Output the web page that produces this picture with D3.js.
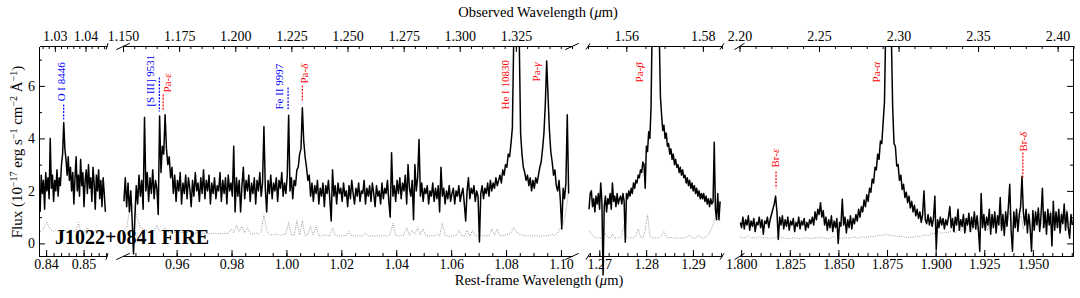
<!DOCTYPE html>
<html>
<head>
<meta charset="utf-8">
<script src="https://cdn.jsdelivr.net/npm/d3@7/dist/d3.min.js"></script>
<style>
  body { margin: 0; background: #fff; }
  svg { display: block; }
</style>
</head>
<body>
<svg id="chart" width="1080" height="298"></svg>
<script>
// observed / rest-frame wavelength ratio (1+z)
var zf = 1.2228;
var objectName = "J1022+0841 FIRE";

// x limits of each panel in observed wavelength (um)
var obsLimits = [[1.025, 1.047], [1.150, 1.350], [1.550, 1.585], [2.200, 2.410]];
var fluxLimits = [-0.5, 7.5];

// tick labels
var restTicks = [
  [0.84, 0.85],
  [0.96, 0.98, 1.00, 1.02, 1.04, 1.06, 1.08, 1.10],
  [1.27, 1.28, 1.29],
  [1.800, 1.825, 1.850, 1.875, 1.900, 1.925, 1.950]
];
var obsTicks = [
  [1.03, 1.04],
  [1.150, 1.175, 1.200, 1.225, 1.250, 1.275, 1.300, 1.325],
  [1.56, 1.58],
  [2.20, 2.25, 2.30, 2.35, 2.40]
];
var restMinor = [0.002, 0.005, 0.002, 0.005];
var obsMinor = [0.002, 0.005, 0.005, 0.01];
var fluxTicks = [0, 2, 4, 6];
var fluxMinor = [1, 3, 5, 7];

// spectrum sampling (rest-frame um): first wavelength and step of each panel
var fluxStart = [0.8384, 0.9408, 1.2678, 1.7995];
var fluxStep = [0.0003, 0.0005, 0.00025, 0.0007];
var errStep = [0.0006, 0.001, 0.0005, 0.0014];

// flux, 1e-17 erg/s/cm2/A
var flux1 = [1.2, 2.6, 1.9, 2.4, 1.3, 2.7, 2.0, 2.5, 1.7, 4.0,
  2.1, 2.6, 1.6, 2.4, 2.0, 2.8, 1.8, 2.5, 2.2, 3.0,
  3.4, 4.6, 3.6, 3.2, 2.6, 3.3, 2.4, 2.9, 2.0, 2.7,
  1.5, 2.5, 3.3, 2.0, 2.6, 1.8, 3.2, 2.2, 2.7, 1.4,
  2.4, 2.8, 1.9, 3.0, 2.1, 2.5, 1.6, 2.9, 2.3, 1.3,
  2.6, 2.0, 2.8, 1.7, 2.4, 1.4, 2.5, 1.9, 1.2];
var flux2 = [1.6, 2.5, 1.4, 2.3, 1.2, 2.0, 0.9, -0.4, 1.0, 2.2,
  1.5, 2.6, 1.8, 2.4, 1.3, 4.8, 2.0, 2.7, 1.6, 2.5,
  1.9, 2.8, 1.7, 2.4, 2.1, 1.1, 4.85, 2.7, 3.7, 3.4,
  4.9, 3.6, 3.0, 3.3, 2.5, 2.9, 1.9, 2.6, 1.6, 2.4,
  2.0, 2.7, 1.5, 2.3, 1.9, 2.6, 1.7, 2.5, 2.1, 1.4,
  2.4, 1.8, 2.7, 2.0, 2.3, 1.6, 2.5, 1.9, 2.8, 1.7,
  2.4, 2.0, 2.6, 1.5, 2.3, 1.9, 2.5, 1.7, 2.2, 2.0,
  2.7, 1.6, 2.4, 1.9, 2.5, 1.5, 2.6, 2.0, 2.3, 1.8,
  3.7, 1.2, 2.5, 1.8, 2.4, 1.2, 2.2, 2.9, 1.7, 2.4,
  2.0, 2.6, 1.6, 2.3, 1.9, 2.5, 1.5, 2.4, 2.0, 2.7,
  1.8, 2.3, 4.45, 2.1, 1.2, 2.4, 1.9, 2.6, 1.7, 2.3,
  2.0, 2.5, 1.6, 2.4, 2.1, 2.7, 1.8, 2.3, 1.9, 2.6,
  4.88, 2.0, 2.5, 1.7, 2.4, 2.2, 2.8, 2.9, 3.4, 3.6,
  5.17, 3.9, 3.3, 2.9, 2.4, 2.6, 1.8, 2.3, 1.6, 2.2,
  1.9, 2.4, 1.5, 2.1, 1.8, 2.3, 1.4, 2.2, 1.9, 2.4,
  1.7, 0.85, 2.8, 1.8, 2.2, 1.5, 2.3, 1.9, 2.1, 1.6,
  2.3, 1.8, 2.0, 1.4, 2.2, 1.7, 2.4, 1.9, 1.5, 2.1,
  1.8, 2.3, 1.6, 2.0, 1.9, 2.4, 1.5, 2.1, 1.8, 2.2,
  1.6, 2.3, 1.9, 1.4, 2.2, 1.8, 2.0, 1.5, 2.3, 1.7,
  2.1, 1.9, 2.4, 1.6, 1.0, 3.45, 1.8, 2.2, 1.6, 2.4,
  1.9, 2.5, 1.7, 2.3, 2.0, 2.6, 1.5, 3.0, 2.1, 1.8,
  2.4, 0.9, 3.0, 2.0, 2.5, 3.96, 1.8, 2.3, 1.6, 2.1,
  1.9, 2.2, 1.5, 2.0, 1.8, 2.3, 1.6, 2.1, 1.7, 2.2,
  1.2, 2.9, 1.8, 2.1, 1.5, 2.0, 1.7, 2.2, 1.6, 1.9,
  2.1, 1.5, 2.0, 1.8, 2.2, 1.6, 1.9, 2.1, 1.5, 0.85,
  2.0, 2.5, 1.7, 2.1, 1.9, 2.2, 1.6, 2.0, 1.8, 0.05,
  1.9, 2.2, 1.7, 2.1, 1.9, 2.3, 1.8, 2.4, 2.0, 2.3,
  2.1, 2.5, 2.2, 2.4, 2.6, 2.3, 2.8, 2.6, 3.0, 2.9,
  3.4, 3.3, 3.8, 4.4, 7.8, 10.0, 12.0, 10.5, 7.8, 4.2,
  3.4, 2.9, 2.7, 2.4, 2.6, 2.2, 2.5, 2.0, 2.4, 2.1,
  2.5, 2.3, 2.6, 2.9, 3.1, 3.6, 4.2, 5.3, 6.95, 5.6,
  4.3, 3.5, 3.1, 2.6, 2.8, 2.2, 2.0, 2.4, 1.6, 0.55,
  2.1, 1.7, 2.3, 4.9, 1.9];
var flux3 = [1.3, 1.9, 2.0, 1.4, 1.7, 1.2, 1.8, 1.5, 1.9, 1.3,
  2.3, 1.6, -1.2, 1.4, 1.8, 1.2, 1.7, 1.5, 1.9, 1.3,
  2.3, 1.6, 1.8, 1.4, 1.9, 1.5, 1.7, 1.8, 1.5, 1.9,
  1.6, 0.04, 1.9, 1.7, 2.0, 1.8, 2.1, 1.9, 2.3, 2.1,
  2.4, 2.3, 2.6, 2.5, 2.8, 2.7, 3.1, 3.0, 2.1, 3.7,
  3.5, 4.25, 4.0, 5.2, 8.5, 12, 14, 15, 14, 12,
  8.0, 5.6, 4.9, 4.3, 4.5, 4.0, 4.2, 3.7, 3.8, 3.4,
  3.6, 3.2, 3.4, 3.0, 3.2, 2.9, 3.0, 2.7, 2.9, 2.6,
  2.8, 2.5, 2.6, 2.3, 2.5, 2.2, 2.4, 2.1, 2.3, 2.0,
  2.2, 1.9, 2.1, 1.8, 2.0, 1.7, 1.9, 1.7, 1.9, 1.6,
  1.8, 1.5, 1.7, 1.4, 1.7, 1.5, 1.6, 3.85, 1.3, 0.9,
  1.9, 0.9, 1.6];
var flux4 = [0.8, 0.6, 1.0, 0.55, 0.9, 0.7, 1.05, 0.5, 0.85, 0.65,
  0.95, 0.45, 0.8, 0.7, 1.0, 0.6, 0.9, 0.35, 0.85, 0.75,
  1.0, 0.6, 0.9, 1.1, 1.3, 1.5, 1.8, 1.2, 0.15, 1.0,
  0.7, 1.05, 0.55, 0.9, 0.65, 1.0, 0.5, 0.85, 0.7, 0.95,
  0.45, 0.8, 0.65, 1.0, 0.55, 0.85, 0.7, 0.95, 0.5, 0.8,
  0.6, 0.9, 0.75, 1.0, 0.7, 1.2, 0.9, 1.3, 1.1, 1.55,
  1.0, 1.25, 0.7, 1.0, 0.5, 0.9, 0.6, 1.05, 0.45, 0.85,
  0.6, 0.95, 0.0, 0.8, 0.65, 1.68, 0.7, 1.0, 0.4, 0.9,
  0.6, 1.05, 0.55, 0.95, 0.75, 1.1, 0.85, 1.3, 1.0, 1.4,
  1.2, 1.65, 1.4, 1.85, 1.6, 2.1, 1.95, 2.45, 2.3, 2.9,
  2.8, 3.4, 3.2, 3.9, 3.8, 4.6, 5.4, 8.5, 14, 16,
  12, 8.0, 5.2, 3.8, 3.7, 2.95, 3.0, 2.4, 2.6, 2.05,
  2.25, 1.75, 1.95, 1.55, 1.8, 1.35, 1.6, 1.2, 1.45, 1.05,
  1.3, 0.95, 1.2, 0.8, 1.1, 2.0, 0.9, 0.75, 1.1, 0.7,
  1.0, 0.65, 0.95, 1.8, -0.23, 0.9, 0.6, 1.0, 0.7, 0.95,
  0.55, 0.9, 0.7, 1.0, 1.4, 0.6, 0.95, 0.45, 1.0, 0.7,
  1.3, 0.5, 0.9, 0.65, 1.1, 0.4, 0.95, 0.7, 1.15, 0.45,
  1.0, 0.6, 1.2, 0.55, 1.05, 0.5, -0.3, 1.9, 0.6, 1.1,
  0.5, 1.0, 0.7, 1.3, 0.35, 1.1, 0.6, 1.2, 0.4, 1.05,
  0.7, 1.75, 0.5, 1.1, 0.3, 1.2, 0.65, 1.4, 2.25, 0.5,
  -0.3, 1.2, 0.6, 1.3, 0.45, 1.1, 1.4, 2.56, 1.2, 0.7,
  1.3, 0.4, 1.1, 0.6, -0.3, 1.25, 0.5, 1.2, 0.7, 1.35,
  0.45, 1.1, 2.1, 0.6, 1.2, 0.35, 1.3, 0.7, 1.15, -0.1,
  1.6, 0.5, 1.2, 0.6, 1.3, 0.4, 1.1, 0.75, 1.5, 0.5,
  1.2, 0.6, 0.2, 1.1, 0.7];

// error spectrum, same units
var err1 = [0.45, 0.5, 0.65, 0.8, 0.6, 0.5, 0.45, 0.5, 0.45, 0.5,
  0.45, 0.48, 0.45, 0.5, 0.45, 0.48, 0.45, 0.8, 0.45, 0.5,
  0.45, 0.6, 0.45, 0.48, 0.45, 0.5, 0.45, 0.48, 0.5, 0.45];
var err2 = [0.5, 0.6, 1.2, 1.5, 1.3, 0.9, 0.6, 0.55, 0.5, 0.45,
  0.5, 0.45, 0.7, 0.45, 0.5, 0.6, 0.45, 0.4, 0.45, 0.4,
  0.45, 0.4, 0.42, 0.4, 0.45, 0.4, 0.38, 0.42, 0.4, 0.38,
  0.4, 0.38, 0.36, 0.4, 0.36, 0.38, 0.35, 0.4, 0.36, 0.55,
  0.4, 0.7, 0.45, 0.65, 0.4, 0.6, 0.38, 0.35, 0.4, 0.36,
  0.45, 1.1, 0.5, 0.34, 0.32, 0.36, 0.33, 0.3, 0.34, 0.35,
  0.8, 0.32, 0.3, 0.86, 0.32, 0.86, 0.3, 0.33, 0.65, 0.3,
  0.65, 0.3, 0.28, 0.32, 0.3, 0.28, 0.6, 0.3, 0.28, 0.3,
  0.28, 0.3, 0.45, 0.28, 0.3, 0.27, 0.3, 0.28, 0.4, 0.27,
  0.3, 0.28, 0.27, 0.3, 0.28, 0.3, 0.27, 0.35, 0.77, 0.3,
  0.28, 0.3, 0.32, 0.6, 0.3, 0.5, 0.35, 0.6, 0.32, 0.55,
  0.3, 0.28, 0.3, 0.27, 0.35, 0.28, 0.77, 0.3, 0.28, 0.27,
  0.3, 0.28, 0.5, 0.3, 0.27, 0.5, 0.28, 0.5, 0.3, 0.27,
  0.3, 0.28, 0.3, 0.27, 0.55, 0.3, 0.55, 0.28, 0.3, 0.32,
  0.35, 0.4, 0.6, 0.45, 0.35, 0.32, 0.3, 0.28, 0.3, 0.27,
  0.3, 0.28, 0.27, 0.3, 0.28, 0.3, 0.35, 0.3, 0.4, 0.6,
  0.7, 1.2, 2.0];
var err3 = [0.45, 0.4, 0.25, 0.2, 0.22, 0.2, 0.25, 0.4, 0.22, 0.2,
  0.35, 0.2, 0.22, 0.2, 0.3, 0.73, 0.25, 0.2, 0.22, 0.2,
  0.3, 0.55, 0.25, 0.2, 0.5, 1.1, 0.3, 0.2, 0.22, 0.2,
  0.22, 0.3, 0.45, 0.25, 0.2, 0.22, 0.2, 0.22, 0.2, 0.22,
  0.2, 0.22, 0.25, 0.32, 0.22, 0.2, 0.25, 0.3, 0.22, 0.2,
  0.25, 0.35, 0.5, 0.7, 1.0, 1.3, 0.8];
var err4 = [0.25, 0.2, 0.22, 0.3, 0.2, 0.22, 0.2, 0.25, 0.2, 0.22,
  0.2, 0.18, 0.22, 0.2, 0.3, 0.2, 0.22, 0.2, 0.18, 0.2,
  0.22, 0.2, 0.18, 0.2, 0.22, 0.2, 0.18, 0.2, 0.22, 0.2,
  0.22, 0.2, 0.18, 0.2, 0.25, 0.22, 0.2, 0.18, 0.2, 0.22,
  0.2, 0.22, 0.25, 0.2, 0.22, 0.25, 0.22, 0.25, 0.28, 0.25,
  0.28, 0.3, 0.3, 0.32, 0.35, 0.3, 0.3, 0.28, 0.25, 0.28,
  0.25, 0.22, 0.25, 0.22, 0.25, 0.28, 0.25, 0.3, 0.32, 0.3,
  0.35, 0.4, 0.35, 0.45, 0.38, 0.42, 0.4, 0.45, 0.5, 0.4,
  0.55, 0.45, 0.7, 0.5, 0.9, 0.45, 0.75, 0.5, 0.95, 0.6,
  0.8, 0.5, 1.0, 0.6, 0.85, 1.1, 0.55, 0.9, 0.7, 1.2,
  0.6, 1.0, 0.75, 1.1, 0.55, 0.95, 1.2, 0.65, 1.0, 0.8,
  1.15, 0.6, 1.0, 0.75, 1.25, 0.7, 1.05, 0.6, 1.2, 0.85,
  1.3, 0.7, 1.1];

// line identifications (rest-frame um, flux units)
var lineNames = ["O I 8446", "[S III] 9531", "Pa-ε", "Fe II 9997", "Pa-δ", "He I 10830", "Pa-γ", "Pa-β", "Pa-α", "Br-ε", "Br-δ"];
var lineMetal = [true, true, false, true, false, false, false, false, false, false, false];
var lineTextWave = [0.8451, 0.9516, 0.9581, 0.9986, 1.0079, 1.0811, 1.0924, 1.2793, 1.8712, 1.8197, 1.9471];
var lineTextFlux = [5.41, 5.21, 5.75, 5.10, 6.09, 5.10, 6.17, 6.13, 6.13, 2.89, 3.50];
var lineWave = [0.84468, 0.9537, 0.9551, 1.0006, 1.0058, null, null, null, null, 1.81793, 1.94485];
var lineTop = [5.29, 6.32, 5.67, 5.94, 6.01, null, null, null, null, 2.74, 3.46];
var lineBottom = [4.72, 5.02, 5.06, 5.10, 5.44, null, null, null, null, 2.09, 2.51];

var fluxes = [flux1, flux2, flux3, flux4];
var errs = [err1, err2, err3, err4];

// ---- layout ----
var W = 1080, H = 298;
var panelX = [[39.5, 107], [123, 572], [588, 722], [739.5, 1073.5]];
var yTop = 46.5, yBot = 256.5;
var serif = "'Liberation Serif', 'Times New Roman', Times, serif";

var svg = d3.select("#chart");
var y = d3.scaleLinear().domain(fluxLimits).range([yBot, yTop]);

var panels = obsLimits.map(function(lim, p) {
  return {
    rest: d3.scaleLinear().domain([lim[0] / zf, lim[1] / zf]).range(panelX[p]),
    obs: d3.scaleLinear().domain(lim).range(panelX[p])
  };
});

function minorTicks(dom, step) {
  var out = [];
  for (var k = Math.ceil(dom[0] / step - 1e-9); k * step <= dom[1] + 1e-9; k++) out.push(+(k * step).toFixed(6));
  return out;
}
function series(start, step, vals) {
  return vals.map(function(v, i) { return [start + i * step, v]; });
}
function styleAxis(g) {
  g.attr("font-family", serif).attr("font-size", 14);
  g.selectAll("line").attr("stroke", "#000");
  g.select(".domain").attr("stroke", "#000");
}
function noDomain(g) { g.select(".domain").remove(); }

// spectra
var defs = svg.append("defs");
panels.forEach(function(P, p) {
  defs.append("clipPath").attr("id", "clip" + p)
    .append("rect")
      .attr("x", panelX[p][0]).attr("y", yTop)
      .attr("width", panelX[p][1] - panelX[p][0]).attr("height", H - yTop);

  var line = d3.line()
    .x(function(d) { return P.rest(d[0]); })
    .y(function(d) { return y(d[1]); });

  var g = svg.append("g").attr("clip-path", "url(#clip" + p + ")");
  g.append("path")
    .datum(series(fluxStart[p], errStep[p], errs[p]))
    .attr("d", line)
    .attr("fill", "none")
    .attr("stroke", "#9a9a9a")
    .attr("stroke-width", 1)
    .attr("stroke-dasharray", "1,1.3");
  g.append("path")
    .datum(series(fluxStart[p], fluxStep[p], fluxes[p]))
    .attr("d", line)
    .attr("fill", "none")
    .attr("stroke", "#000")
    .attr("stroke-width", 1.5)
    .attr("stroke-linejoin", "round");
});

// axes
panels.forEach(function(P, p) {
  var fmtB = d3.format(p === 3 ? ".3f" : ".2f");
  var fmtT = d3.format(p === 1 ? ".3f" : ".2f");

  svg.append("g").attr("transform", "translate(0," + (yBot - 0.5) + ")")
    .call(d3.axisBottom(P.rest).tickValues(minorTicks(P.rest.domain(), restMinor[p]))
      .tickSizeInner(-3).tickSizeOuter(0).tickFormat(""))
    .call(noDomain).call(styleAxis);
  svg.append("g").attr("transform", "translate(0," + (yBot - 0.5) + ")")
    .call(d3.axisBottom(P.rest).tickValues(restTicks[p])
      .tickSizeInner(-6).tickSizeOuter(0).tickPadding(3.5).tickFormat(fmtB))
    .call(styleAxis);

  svg.append("g").attr("transform", "translate(0," + (yTop - 0.5) + ")")
    .call(d3.axisTop(P.obs).tickValues(minorTicks(P.obs.domain(), obsMinor[p]))
      .tickSizeInner(-3).tickSizeOuter(0).tickFormat(""))
    .call(noDomain).call(styleAxis);
  svg.append("g").attr("transform", "translate(0," + (yTop - 0.5) + ")")
    .call(d3.axisTop(P.obs).tickValues(obsTicks[p])
      .tickSizeInner(-6).tickSizeOuter(0).tickPadding(5).tickFormat(fmtT))
    .call(styleAxis);

  // break marks
  var w = panelX[p][1] - panelX[p][0], h = yBot - yTop, d = 0.015;
  var ends = [];
  if (p > 0) ends.push(panelX[p][0]);
  if (p < 3) ends.push(panelX[p][1]);
  ends.forEach(function(cx) {
    [yTop, yBot].forEach(function(cy) {
      svg.append("line")
        .attr("x1", cx - d * w).attr("y1", cy + d * h)
        .attr("x2", cx + d * w).attr("y2", cy - d * h)
        .attr("stroke", "#000").attr("stroke-width", 1);
    });
  });
});

var xl = panelX[0][0] - 0.5, xr = panelX[3][1] - 0.5;
svg.append("g").attr("transform", "translate(" + xl + ",0)")
  .call(d3.axisLeft(y).tickValues(fluxMinor).tickSizeInner(-3).tickSizeOuter(0).tickFormat(""))
  .call(noDomain).call(styleAxis);
svg.append("g").attr("transform", "translate(" + xl + ",0)")
  .call(d3.axisLeft(y).tickValues(fluxTicks).tickSizeInner(-6).tickSizeOuter(0).tickPadding(4).tickFormat(d3.format("d")))
  .call(styleAxis);
svg.append("g").attr("transform", "translate(" + xr + ",0)")
  .call(d3.axisRight(y).tickValues(fluxMinor).tickSizeInner(-3).tickSizeOuter(0).tickFormat(""))
  .call(noDomain).call(styleAxis);
svg.append("g").attr("transform", "translate(" + xr + ",0)")
  .call(d3.axisRight(y).tickValues(fluxTicks).tickSizeInner(-6).tickSizeOuter(0).tickFormat(""))
  .call(styleAxis);

// line identifications
lineNames.forEach(function(name, i) {
  var p = panels.findIndex(function(P) {
    var dm = P.rest.domain();
    return lineTextWave[i] >= dm[0] && lineTextWave[i] <= dm[1];
  });
  var P = panels[p];
  var col = lineMetal[i] ? "#0000ff" : "#ff0000";
  var tx = P.rest(lineTextWave[i]), ty = y(lineTextFlux[i]);
  var t = svg.append("text")
    .attr("transform", "translate(" + tx + "," + ty + ") rotate(-90)")
    .attr("font-family", serif).attr("font-size", 11).attr("fill", col);
  var m = name.match(/^(Pa|Br)-(.)$/);
  if (m) {
    t.append("tspan").text(m[1] + "-");
    t.append("tspan").attr("font-style", "italic").text(m[2]);
  } else {
    t.text(name);
  }
  if (lineWave[i] !== null) {
    var lx = P.rest(lineWave[i]);
    svg.append("line")
      .attr("x1", lx).attr("x2", lx)
      .attr("y1", y(lineTop[i])).attr("y2", y(lineBottom[i]))
      .attr("stroke", col).attr("stroke-width", 1.2)
      .attr("stroke-dasharray", "2,1.3");
  }
});

// object label
svg.append("text")
  .attr("x", 55).attr("y", 243.5)
  .attr("font-family", serif).attr("font-weight", "bold").attr("font-size", 20)
  .attr("fill", "#000")
  .text(objectName);

// axis titles
var tTop = svg.append("text").attr("x", 538).attr("y", 17)
  .attr("text-anchor", "middle").attr("font-family", serif).attr("font-size", 14.5);
tTop.append("tspan").text("Observed Wavelength (");
tTop.append("tspan").attr("font-style", "italic").text("μ");
tTop.append("tspan").text("m)");

var tBot = svg.append("text").attr("x", 539).attr("y", 285)
  .attr("text-anchor", "middle").attr("font-family", serif).attr("font-size", 14.5);
tBot.append("tspan").text("Rest-frame Wavelength (");
tBot.append("tspan").attr("font-style", "italic").text("μ");
tBot.append("tspan").text("m)");

var tY = svg.append("text").attr("transform", "translate(22,152) rotate(-90)")
  .attr("text-anchor", "middle").attr("font-family", serif).attr("font-size", 15);
[["Flux (10", 0], ["−17", 1], [" erg s", 0], ["−1", 1], [" cm", 0], ["−2", 1], [" Å", 0], ["−1", 1], [")", 0]]
  .forEach(function(part) {
    var s = tY.append("tspan").text(part[0]);
    if (part[1]) s.attr("font-size", 10).attr("dy", -5.5);
    else s.attr("dy", 0);
  });
// restore baseline after each superscript
tY.selectAll("tspan").each(function(d, i, nodes) {
  if (i > 0 && d3.select(nodes[i - 1]).attr("font-size") === "10") d3.select(this).attr("dy", 5.5);
});
</script>
</body>
</html>
